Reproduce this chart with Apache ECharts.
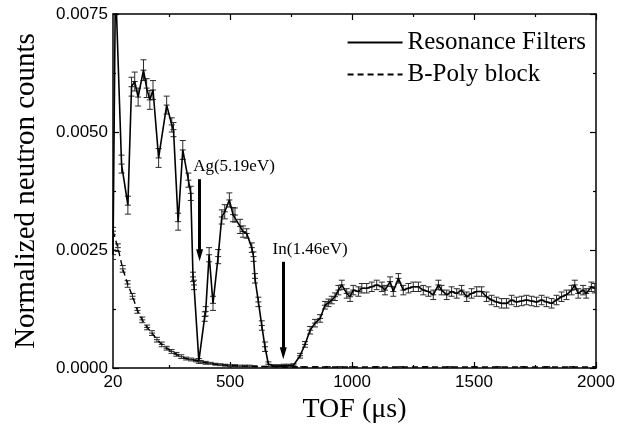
<!DOCTYPE html>
<html>
<head>
<meta charset="utf-8">
<script src="https://cdn.jsdelivr.net/npm/echarts@6/dist/echarts.min.js"></script>
<style>html,body{margin:0;padding:0;background:#fff}#c{width:633px;height:434px}</style>
</head>
<body>
<div id="c"></div>
<script>
// ---- Data ----
const rfTof = [
  20, 30, 55, 81, 96, 109, 123, 145, 158, 171,
  184, 207, 240, 261, 268, 287, 306, 329, 339, 348,
  352, 372, 396, 400, 414, 430, 451, 466, 478, 497,
  512, 520, 541, 553, 568, 589, 596, 602, 616, 630,
  643, 657, 680, 700, 720, 740, 760, 787, 807, 828,
  848, 869, 889, 903, 917, 930, 944, 958, 978, 992,
  1005, 1026, 1040, 1060, 1081, 1101, 1122, 1135, 1156, 1169,
  1190, 1210, 1231, 1251, 1272, 1292, 1313, 1333, 1354, 1367,
  1388, 1408, 1429, 1449, 1470, 1490, 1511, 1531, 1551, 1572,
  1592, 1613, 1633, 1654, 1674, 1695, 1715, 1736, 1756, 1777,
  1797, 1818, 1838, 1859, 1879, 1900, 1913, 1927, 1947, 1960,
  1981, 1995
];
const rfCounts = [
  0.0024, 0.0082, 0.00432, 0.00345, 0.00596, 0.00607, 0.00574, 0.00631, 0.00593, 0.00568,
  0.00589, 0.00445, 0.00557, 0.00515, 0.00505, 0.0031, 0.00462, 0.00398, 0.0037, 0.00193,
  0.00176, 0.00015, 0.00109, 0.0012, 0.0024, 0.00137, 0.00236, 0.0032, 0.00331, 0.00356,
  0.00325, 0.00324, 0.003, 0.00289, 0.00285, 0.00255, 0.00236, 0.0019, 0.0014, 0.0009,
  0.00045, 0.00008, 0.00004, 0.00004, 0.00005, 0.00005, 0.00006, 0.00026, 0.0005, 0.0008,
  0.00095, 0.00105, 0.00133, 0.00138, 0.00144, 0.00151, 0.00165, 0.00176, 0.00158, 0.00151,
  0.00165, 0.00162, 0.00169, 0.00169, 0.00172, 0.00176, 0.00172, 0.00165, 0.00183, 0.00162,
  0.0019, 0.00165, 0.00169, 0.00172, 0.00172, 0.00165, 0.00162, 0.00155, 0.00176, 0.00165,
  0.00155, 0.00162, 0.00158, 0.00165, 0.00151, 0.00158, 0.00162, 0.00162, 0.00151, 0.00144,
  0.0014, 0.00137, 0.00137, 0.00144, 0.0014, 0.00142, 0.00144, 0.00142, 0.0014, 0.00144,
  0.0014, 0.00137, 0.00144, 0.00151, 0.00155, 0.00165, 0.00176, 0.00158, 0.00165, 0.00158,
  0.00172, 0.00169
];
const rfErr = [
  0.0001, 0.0002, 0.00019, 0.00019, 0.0002, 0.0002, 0.00019, 0.00022, 0.0002, 0.0002,
  0.0002, 0.0002, 0.00019, 0.00015, 0.00015, 0.00018, 0.0002, 0.00015, 0.00015, 0.0001,
  0.0001, 0.00005, 0.0001, 0.0001, 0.00015, 0.00015, 0.00015, 0.00015, 0.00015, 0.00015,
  0.00015, 0.00015, 0.00015, 0.00012, 0.0001, 0.0001, 0.0001, 0.0001, 0.0001, 0.0001,
  0.0001, 0.00005, 0.00003, 0.00003, 0.00003, 0.00003, 0.00003, 0.00005, 0.00006, 0.00008,
  0.00008, 0.00008, 0.00008, 0.00008, 0.00008, 0.00008, 0.0001, 0.0001, 0.0001, 0.0001,
  0.0001, 0.0001, 0.0001, 0.0001, 0.0001, 0.0001, 0.0001, 0.0001, 0.0001, 0.0001,
  0.0001, 0.0001, 0.0001, 0.0001, 0.0001, 0.0001, 0.0001, 0.0001, 0.0001, 0.0001,
  0.0001, 0.0001, 0.0001, 0.0001, 0.0001, 0.0001, 0.0001, 0.0001, 0.0001, 0.0001,
  0.0001, 0.0001, 0.0001, 0.0001, 0.0001, 0.0001, 0.0001, 0.0001, 0.0001, 0.0001,
  0.0001, 0.0001, 0.0001, 0.0001, 0.0001, 0.0001, 0.0001, 0.0001, 0.0001, 0.0001,
  0.0001, 0.0001
];
const bpTof = [
  20, 40, 60, 80, 100, 120, 140, 160, 180, 200,
  220, 240, 260, 280, 300, 320, 340, 360, 380, 400,
  420, 440, 460, 480, 500, 520, 540, 560, 580, 600,
  640, 680, 720, 760, 800, 850, 900, 950, 1000, 1100,
  1200, 1300, 1400, 1500, 1600, 1700, 1800, 1900, 2000
];
const bpCounts = [
  0.0029, 0.00255, 0.0021, 0.00178, 0.00152, 0.00122, 0.00102, 0.00086, 0.00074, 0.0006,
  0.0005, 0.00042, 0.00035, 0.00029, 0.00024, 0.0002, 0.00018, 0.00016, 0.00013, 0.00011,
  0.0001, 0.00008, 0.00007, 0.00006, 0.00005, 0.00005, 0.00004, 0.00004, 0.00004, 0.00003,
  0.00003, 0.00003, 0.00002, 0.00002, 0.00002, 0.00002, 0.00002, 0.00002, 0.00002, 0.00002,
  0.00002, 0.00002, 0.00002, 0.00002, 0.00002, 0.00002, 0.00002, 0.00002, 0.00002
];
const bpErr = [
  0.00008, 0.00008, 0.00007, 0.00007, 0.00006, 0.00006, 0.00006, 0.00005, 0.00005, 0.00005,
  0.00005, 0.00004, 0.00004, 0.00004, 0.00004, 0.00003, 0.00003, 0.00003, 0.00003, 0.00003,
  0.00002, 0.00002, 0.00002, 0.00002, 0.00002, 0.00002, 0.00002, 0.00002, 0.00002, 0.00002,
  0.00001, 0.00001, 0.00001, 0.00001, 0.00001, 0.00001, 0.00001, 0.00001, 0.00001, 0.00001,
  0.00001, 0.00001, 0.00001, 0.00001, 0.00001, 0.00001, 0.00001, 0.00001, 0.00001
];
const xTickLabels = [20, 500, 1000, 1500, 2000];
const xMajorTicks = [500, 1000, 1500, 2000];
const xMinorTicks = [250, 750, 1250, 1750];
const seriesNames = ['Resonance Filters', 'B-Poly block'];
const annoLabels = ['Ag(5.19eV)', 'In(1.46eV)'];

// ---- Build chart ----
const SERIF = '"Liberation Serif","Times New Roman",serif';
const SANS = '"Liberation Sans",Arial,sans-serif';
const rfData = rfTof.map((t, i) => [t, rfCounts[i]]);
const rfErrData = rfTof.map((t, i) => [t, rfCounts[i], rfErr[i]]);
const bpData = bpTof.map((t, i) => [t, bpCounts[i]]);
const bpErrData = bpTof.map((t, i) => [t, bpCounts[i], bpErr[i]]);

function errRender(params, api) {
  const x = api.value(0), y = api.value(1), e = api.value(2);
  const p = api.coord([x, y]);
  const hi = api.coord([x, y + e]);
  const lo = api.coord([x, y - e]);
  const w = 3;
  const st = {stroke: '#2a2a2a', lineWidth: 1};
  return {type: 'group', children: [
    {type: 'line', shape: {x1: p[0], y1: hi[1], x2: p[0], y2: lo[1]}, style: st},
    {type: 'line', shape: {x1: p[0] - w, y1: hi[1], x2: p[0] + w, y2: hi[1]}, style: st},
    {type: 'line', shape: {x1: p[0] - w, y1: lo[1], x2: p[0] + w, y2: lo[1]}, style: st},
    {type: 'line', shape: {x1: p[0] - w, y1: p[1], x2: p[0] + w, y2: p[1]}, style: st}
  ]};
}

const axLine = {show: true, lineStyle: {color: '#000', width: 1.5}};
const baseX = {type: 'value', min: 20, max: 2000, splitLine: {show: false}};
const baseY = {type: 'value', min: 0, max: 0.0075, interval: 0.0025, splitLine: {show: false}};

const chart = echarts.init(document.getElementById('c'), null, {renderer: 'canvas'});
chart.setOption({
  animation: false,
  backgroundColor: '#fff',
  grid: {left: 113, right: 37, top: 14, bottom: 66},
  legend: {
    data: seriesNames,
    orient: 'vertical', right: 42, top: 25,
    itemWidth: 55, itemHeight: 14, itemGap: 7,
    itemStyle: {opacity: 0, borderWidth: 0},
    textStyle: {fontFamily: SERIF, fontSize: 25, color: '#000'}
  },
  xAxis: [
    Object.assign({}, baseX, {
      position: 'bottom', axisLine: axLine,
      axisTick: {show: true, inside: true, length: 6, customValues: xMajorTicks, lineStyle: {color: '#000', width: 1.2}},
      axisLabel: {show: true, customValues: xTickLabels, margin: 6, fontFamily: SANS, fontSize: 17, color: '#000',
        formatter: v => String(Math.round(v))},
      name: 'TOF (\u03bcs)', nameLocation: 'middle', nameGap: 27,
      nameTextStyle: {fontFamily: SERIF, fontSize: 28, color: '#000'}
    }),
    Object.assign({}, baseX, {
      position: 'bottom', axisLine: {show: false},
      axisTick: {show: true, inside: true, length: 3, customValues: xMinorTicks, lineStyle: {color: '#000', width: 1.2}},
      axisLabel: {show: false}
    }),
    Object.assign({}, baseX, {
      position: 'top', axisLine: axLine,
      axisTick: {show: true, inside: true, length: 6, customValues: xMajorTicks, lineStyle: {color: '#000', width: 1.2}},
      axisLabel: {show: false}
    }),
    Object.assign({}, baseX, {
      position: 'top', axisLine: {show: false},
      axisTick: {show: true, inside: true, length: 3, customValues: xMinorTicks, lineStyle: {color: '#000', width: 1.2}},
      axisLabel: {show: false}
    })
  ],
  yAxis: [
    Object.assign({}, baseY, {
      position: 'left', axisLine: axLine,
      axisTick: {show: true, inside: true, length: 6, lineStyle: {color: '#000', width: 1.2}},
      minorTick: {show: true, splitNumber: 2, length: 3, lineStyle: {color: '#000', width: 1.2}},
      axisLabel: {show: true, margin: 5, fontFamily: SANS, fontSize: 17, color: '#000',
        formatter: v => v.toFixed(4)},
      name: 'Normalized neutron counts', nameLocation: 'middle', nameGap: 72,
      nameTextStyle: {fontFamily: SERIF, fontSize: 29, color: '#000'}
    }),
    Object.assign({}, baseY, {
      position: 'right', axisLine: axLine,
      axisTick: {show: true, inside: true, length: 6, lineStyle: {color: '#000', width: 1.2}},
      minorTick: {show: true, splitNumber: 2, length: 3, lineStyle: {color: '#000', width: 1.2}},
      axisLabel: {show: false}
    })
  ],
  series: [
    {
      name: seriesNames[0], type: 'line', data: rfData, symbol: 'none', clip: true,
      lineStyle: {color: '#000', width: 1.6, type: 'solid'}, itemStyle: {color: '#000'},
      z: 3,
      markLine: {
        silent: true, symbol: ['none', 'triangle'], symbolSize: [7, 12], precision: 6,
        label: {show: false},
        lineStyle: {color: '#000', width: 3, type: 'solid'},
        data: [
          [{coord: [375, 0.0040]}, {coord: [375, 0.00239]}],
          [{coord: [718, 0.00225]}, {coord: [718, 0.00031]}]
        ]
      }
    },
    {
      name: seriesNames[1], type: 'line', data: bpData, symbol: 'none', clip: true,
      lineStyle: {color: '#000', width: 1.4, type: [6, 4]}, itemStyle: {color: '#000'},
      z: 2
    },
    {type: 'custom', name: 'rfErr', data: rfErrData, renderItem: errRender, clip: true, z: 2, silent: true,
      encode: {x: 0, y: 1}},
    {type: 'custom', name: 'bpErr', data: bpErrData, renderItem: errRender, clip: true, z: 2, silent: true,
      encode: {x: 0, y: 1}},
    {
      type: 'scatter', name: 'annotations', symbolSize: 0, silent: true,
      itemStyle: {opacity: 1, color: '#000'},
      data: [
        {value: [516, 0.00426], name: annoLabels[0]},
        {value: [828, 0.0025], name: annoLabels[1]}
      ],
      label: {show: true, position: 'inside', formatter: p => p.name, opacity: 1,
        fontFamily: SERIF, fontSize: 17, color: '#000'}
    }
  ]
});
</script>
</body>
</html>
